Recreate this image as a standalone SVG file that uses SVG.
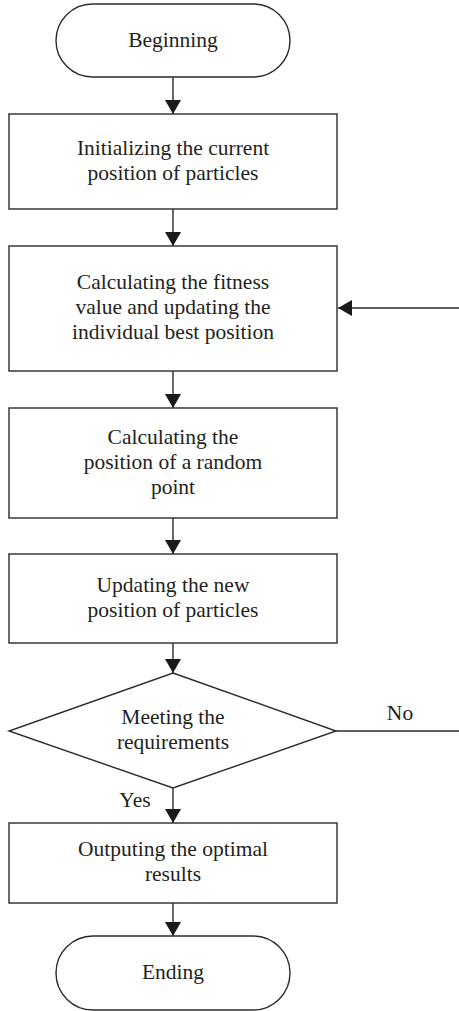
<svg xmlns="http://www.w3.org/2000/svg" width="459" height="1011" viewBox="0 0 459 1011">
<style>
.shape{fill:#ffffff;stroke:#2b2b2b;stroke-width:1.4}
.conn{fill:none;stroke:#2b2b2b;stroke-width:1.4}
text{font-family:"Liberation Serif","Times New Roman",serif;font-size:21.5px;fill:#231f20;text-anchor:middle}
</style>
<defs>
<marker id="arrow" markerUnits="userSpaceOnUse" markerWidth="14" markerHeight="16" viewBox="0 0 14 16" refX="14" refY="8" orient="auto">
<path d="M0,0 L14,8 L0,16 z" fill="#1a1a1a"/>
</marker>
</defs>
<rect width="459" height="1011" fill="#ffffff"/>
<g id="connectors">
<line class="conn" x1="173" y1="77" x2="173" y2="114" marker-end="url(#arrow)"/>
<line class="conn" x1="173" y1="209" x2="173" y2="246" marker-end="url(#arrow)"/>
<line class="conn" x1="173" y1="371" x2="173" y2="408" marker-end="url(#arrow)"/>
<line class="conn" x1="173" y1="518" x2="173" y2="554" marker-end="url(#arrow)"/>
<line class="conn" x1="173" y1="643" x2="173" y2="673" marker-end="url(#arrow)"/>
<line class="conn" x1="173" y1="788" x2="173" y2="823" marker-end="url(#arrow)"/>
<line class="conn" x1="173" y1="903" x2="173" y2="936" marker-end="url(#arrow)"/>
<line class="conn" x1="336" y1="731" x2="459" y2="731"/>
<line class="conn" x1="459" y1="308" x2="338" y2="308" marker-end="url(#arrow)"/>
<text x="400" y="720">No</text>
<text x="135" y="807">Yes</text>
</g>
<g id="begin">
<rect class="shape" x="56" y="4" width="234" height="73" rx="36.5" ry="36.5"/>
<text x="173" y="47">Beginning</text>
</g>
<g id="init">
<rect class="shape" x="9" y="114" width="328" height="95"/>
<text x="173" y="155">Initializing the current</text>
<text x="173" y="180">position of particles</text>
</g>
<g id="fitness">
<rect class="shape" x="9" y="246" width="328" height="125"/>
<text x="173" y="289">Calculating the fitness</text>
<text x="173" y="314">value and updating the</text>
<text x="173" y="339">individual best position</text>
</g>
<g id="random">
<rect class="shape" x="9" y="408" width="328" height="110"/>
<text x="173" y="444">Calculating the</text>
<text x="173" y="469">position of a random</text>
<text x="173" y="494">point</text>
</g>
<g id="update">
<rect class="shape" x="9" y="554" width="328" height="89"/>
<text x="173" y="592">Updating the new</text>
<text x="173" y="617">position of particles</text>
</g>
<g id="decision">
<polygon class="shape" points="173,673 336,731 173,788 9,731"/>
<text x="173" y="724">Meeting the</text>
<text x="173" y="749">requirements</text>
</g>
<g id="output">
<rect class="shape" x="9" y="823" width="328" height="80"/>
<text x="173" y="856">Outputing the optimal</text>
<text x="173" y="881">results</text>
</g>
<g id="end">
<rect class="shape" x="56" y="936" width="234" height="74" rx="37" ry="37"/>
<text x="173" y="979">Ending</text>
</g>
</svg>
